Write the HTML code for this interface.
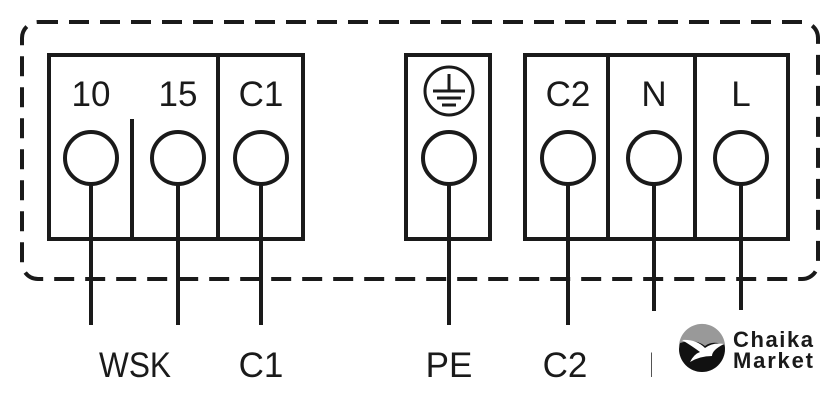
<!DOCTYPE html>
<html><head><meta charset="utf-8"><style>
html,body{margin:0;padding:0;background:#fff;}
svg{display:block;}
text{font-family:"Liberation Sans",sans-serif;fill:#1a1a1a;}
</style></head><body>
<svg width="840" height="408" viewBox="0 0 840 408" xmlns="http://www.w3.org/2000/svg">
<rect x="22" y="22" width="796" height="257" rx="16" fill="none" stroke="#1a1a1a" stroke-width="4" stroke-dasharray="20 11"/>
<g fill="#fff" stroke="#1a1a1a" stroke-width="4">
<rect x="49" y="55" width="254" height="184"/>
<rect x="406" y="55" width="84" height="184"/>
<rect x="525" y="55" width="263" height="184"/>
</g>
<g stroke="#1a1a1a" stroke-width="4" fill="none">
<line x1="218" y1="55" x2="218" y2="239"/>
<line x1="132" y1="119" x2="132" y2="239"/>
<line x1="608" y1="55" x2="608" y2="239"/>
<line x1="695" y1="55" x2="695" y2="239"/>
<circle cx="91" cy="158" r="26"/>
<circle cx="178" cy="158" r="26"/>
<circle cx="261" cy="158" r="26"/>
<circle cx="449" cy="158" r="26"/>
<circle cx="568" cy="158" r="26"/>
<circle cx="654" cy="158" r="26"/>
<circle cx="741" cy="158" r="26"/>
<line x1="91" y1="184" x2="91" y2="325"/>
<line x1="178" y1="184" x2="178" y2="325"/>
<line x1="261" y1="184" x2="261" y2="325"/>
<line x1="449" y1="184" x2="449" y2="325"/>
<line x1="568" y1="184" x2="568" y2="325"/>
<line x1="654" y1="184" x2="654" y2="325"/>
<line x1="741" y1="184" x2="741" y2="310"/>
<circle cx="449" cy="91" r="24" stroke-width="3"/>
<line x1="449" y1="74" x2="449" y2="90" stroke-width="3"/>
<line x1="433" y1="91" x2="465" y2="91" stroke-width="3"/>
<line x1="437" y1="98" x2="461" y2="98" stroke-width="3"/>
<line x1="442" y1="105" x2="456" y2="105" stroke-width="3"/>
</g>
<g font-size="35" text-anchor="middle">
<text x="91" y="106">10</text>
<text x="178" y="106">15</text>
<text x="261" y="106">C1</text>
<text x="568" y="106">C2</text>
<text x="654" y="106">N</text>
<text x="741" y="106">L</text>
<text x="135" y="377" textLength="72" lengthAdjust="spacingAndGlyphs">WSK</text>
<text x="261" y="377">C1</text>
<text x="449" y="377">PE</text>
<text x="565" y="377">C2</text>
<text x="661" y="377">N</text>
</g>
<rect x="652" y="311" width="188" height="97" fill="#fff"/>
<rect x="648" y="322" width="6" height="20" fill="#fff"/>
<circle cx="702" cy="349" r="23" fill="#111"/>
<path d="M679 349 A23 23 0 0 1 725 345 Q712 340 705 346 Q695 338 680 343 Z" fill="#999"/>
<path d="M682 340 Q696 339 705 348 Q713 342 724 344 Q712 350 712 356 Q700 356 690 362 Q694 354 700 352 Q692 346 682 340 Z" fill="#fff"/>
<text x="733" y="347" font-size="22" font-weight="bold" textLength="80" lengthAdjust="spacing">Chaika</text>
<text x="733" y="368" font-size="22" font-weight="bold" textLength="80" lengthAdjust="spacing">Market</text>
</svg>
</body></html>
